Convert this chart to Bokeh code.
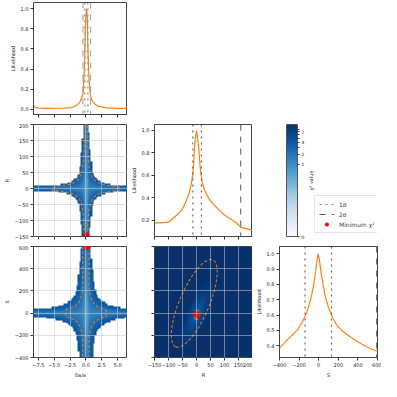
import numpy as np
from bokeh.plotting import figure
from bokeh.layouts import gridplot
from bokeh.models import (FixedTicker, ColorBar, LinearColorMapper, Legend, LegendItem,
                          Label, Span, Range1d)
from bokeh.palettes import Blues256
from bokeh.embed import file_html
from bokeh.resources import INLINE

FONT = "DejaVu Sans"

# ---------------- axis ranges and ticks ----------------
da_range = [-8.27, 6.56]          # δa/a, in units of 1e-4
r_range = [-150, 200]
s_range = [-400, 600]
like_da_range = [-0.05, 1.06]
like_r_range = [0.057, 1.05]
like_s_range = [0.323, 1.048]

da_ticks = [-7.5, -5.0, -2.5, 0.0, 2.5, 5.0]
r_ticks = [-150, -100, -50, 0, 50, 100, 150, 200]
s_ticks = [-400, -200, 0, 200, 400, 600]
like_da_ticks = [0.0, 0.2, 0.4, 0.6, 0.8, 1.0]
like_r_ticks = [0.2, 0.4, 0.6, 0.8, 1.0]
like_s_ticks = [0.4, 0.5, 0.6, 0.7, 0.8, 0.9, 1.0]

# ---------------- 1D profile likelihoods ----------------
da_vals = [-8.27, -8.0, -7.5, -6.0, -4.0, -2.5, -1.6, -1.05, -0.75, -0.57, -0.47, -0.32,
           -0.2, -0.09, 0.0, 0.12, 0.22, 0.31, 0.41, 0.5, 0.62, 0.74, 0.95, 1.37, 2.0,
           3.3, 5.0, 6.56]
da_like = [0.04, 0.02, 0.013, 0.011, 0.012, 0.015, 0.035, 0.063, 0.1, 0.135, 0.16, 0.3,
           0.5, 0.786, 0.93, 1.0, 0.9, 0.62, 0.42, 0.3, 0.2, 0.135, 0.09, 0.055, 0.03,
           0.015, 0.01, 0.01]

r_vals = [-150, -140, -125, -110, -99, -85, -65, -50, -42, -32, -25, -18, -14, -10, -8,
          -4, 0.6, 4, 9, 12, 16.5, 22, 31, 45, 60, 78, 94, 110, 128, 145, 158, 180, 200]
r_like = [0.175, 0.177, 0.18, 0.182, 0.185, 0.215, 0.259, 0.3, 0.343, 0.4, 0.455, 0.53,
          0.596, 0.7, 0.82, 0.93, 0.995, 0.93, 0.82, 0.7, 0.596, 0.52, 0.455, 0.39, 0.343,
          0.3, 0.259, 0.23, 0.203, 0.172, 0.14, 0.125, 0.113]

s_vals = [-400, -360, -319, -270, -221, -180, -139, -105, -75, -50, -32, -18, -6, 5, 23,
          45, 66, 100, 137, 180, 235, 300, 365, 430, 496, 550, 600]
s_like = [0.384, 0.41, 0.44, 0.47, 0.50, 0.54, 0.591, 0.65, 0.722, 0.8, 0.883, 0.95, 1.0,
          0.97, 0.883, 0.8, 0.722, 0.65, 0.591, 0.54, 0.50, 0.468, 0.44, 0.415, 0.39,
          0.375, 0.364]

# sigma boundaries
da_sig1 = [-0.17, 0.31]
da_sig2 = [-0.47, 0.74]
r_sig1 = [-13.0, 17.6]
r_sig2 = [158.0]
s_sig1 = [-139.0, 131.0]
s_sig2 = [592.0]

# minimum chi^2 points shown in the 2D panels
min_dr_da, min_dr_r = [0.05], [-148.0]
min_ds_da, min_ds_s = [0.2], [598.0]
min_rs_r, min_rs_s = [0.6], [-12.0]

# 2D chi^2 surface shape parameters
# shown region: |x*y| < C(y)  or |x| < xb  or |y| < yb, with C ramping from C0 to C1
dr_mask = [50.0, 85.0, 40.0, 60.0, 0.3, 8.0]      # C0, C1, ramp start, ramp length, xb, yb
ds_mask = [280.0, 440.0, 150.0, 250.0, 0.7, 38.0]
# 1-sigma contour: (|x*y| < c or |x| < xv) and |x| < tip
dr_cont = [35.0, 0.3, 5.3]
ds_cont = [110.0, 0.5, 3.2]
dr_glow = [0.35, 160.0]
ds_glow = [0.45, 420.0]
rs_outer = [-8.0, 88.0, 82.0, 395.0, 0.72]     # centre R, centre S, scale R, scale S, rho
rs_inner = [0.6, -18.0, 9.0, 42.0]

cbar_ticks = [0, 1, 2, 3, 4, 5, 6, 7, 8]
CHI_VMAX = 10.0
CHI_GAMMA = 0.19

ORANGE = "#ff7f0e"
NGRID = 72

# ---------------- helpers ----------------
def fmt_minus(s):
    return s.replace("-", "\u2212")

def lab1(v):
    return fmt_minus(f"{v:.1f}")

def lab0(v):
    return fmt_minus(f"{v:.0f}")

blues = list(reversed(Blues256))
rgb = np.array([[int(c[1:3], 16), int(c[3:5], 16), int(c[5:7], 16)] for c in blues], dtype=np.uint8)

def to_rgba(chi2, shown):
    t = np.clip(chi2 / CHI_VMAX, 0, 1) ** CHI_GAMMA
    idx = np.clip(np.round(t * 255).astype(int), 0, 255)
    img = np.zeros(chi2.shape + (4,), dtype=np.uint8)
    img[..., :3] = rgb[idx]
    img[..., 3] = np.where(shown, 255, 0)
    return img.view(np.uint32).reshape(chi2.shape)

def centres(rng, n):
    e = np.linspace(rng[0], rng[1], n + 1)
    return 0.5 * (e[:-1] + e[1:])

def cross_surface(xr, yr, mask, cont, glow):
    x = centres(xr, NGRID); y = centres(yr, NGRID)
    X, Y = np.meshgrid(x, y)
    C = mask[0] + (mask[1] - mask[0]) * np.clip((np.abs(Y) - mask[2]) / mask[3], 0, 1)
    D = np.minimum(np.minimum(np.abs(X * Y) / C, np.abs(X) / mask[4]), np.abs(Y) / mask[5])
    shown = D < 1
    chi2 = (1.3 + 3.6 * np.clip(D, 0, 1.2) ** 1.2
            - 1.0 * np.exp(-((X / glow[0]) ** 2 + (Y / glow[1]) ** 2)))
    Gc = np.maximum(np.minimum(np.abs(X * Y) / cont[0], np.abs(X) / cont[1]), np.abs(X) / cont[2])
    return x, y, chi2, shown, Gc

def mk(w, h, xr, yr, left, right, top, bottom):
    p = figure(width=w, height=h, x_range=Range1d(*xr), y_range=Range1d(*yr),
               toolbar_location=None, output_backend="svg",
               min_border_left=left, min_border_right=right,
               min_border_top=top, min_border_bottom=bottom)
    p.grid.visible = False
    p.outline_line_color = "#444444"
    p.background_fill_color = "white"
    return p

def style_axis(ax, ticks, fmt, show, label=""):
    ax.ticker = FixedTicker(ticks=ticks)
    ax.major_label_overrides = {t: (fmt(t) if show else "") for t in ticks}
    ax.minor_tick_line_color = None
    ax.major_tick_out = 3
    ax.major_tick_in = 0
    ax.major_tick_line_color = "#333333"
    ax.axis_line_color = "#444444"
    ax.major_label_text_font = FONT
    ax.major_label_text_color = "#222222"
    ax.major_label_text_font_size = "5px"
    ax.major_label_standoff = 2 if show else 0
    ax.axis_label = label if label else None
    ax.axis_label_text_font = FONT
    ax.axis_label_text_font_size = "5px"
    ax.axis_label_text_font_style = "normal"
    ax.axis_label_text_color = "#222222"
    ax.axis_label_standoff = 2

def grid2d(p):
    p.grid.visible = True
    p.grid.grid_line_color = "#c8c8c8"
    p.grid.grid_line_alpha = 0.55
    p.grid.level = "overlay"
    p.xgrid.ticker = FixedTicker(ticks=p.xaxis[0].ticker.ticks)
    p.ygrid.ticker = FixedTicker(ticks=p.yaxis[0].ticker.ticks)

def sig_lines(p, s1, s2, c1="#666666", c2="#555555"):
    for v in s1:
        p.add_layout(Span(location=v, dimension="height", line_color=c1,
                          line_dash="dotted", line_width=1.2))
    for v in s2:
        p.add_layout(Span(location=v, dimension="height", line_color=c2,
                          line_dash="dashed", line_width=1.0))

# layout sizes (frames are 100 x 112 px)
W0, W1, W2 = 127, 125, 129
H0, H1, H2 = 123, 122, 135

# ---------------- top-left: δa/a likelihood ----------------
p00 = mk(W0, H0, da_range, like_da_range, 27, 0, 2, 9)
style_axis(p00.xaxis[0], da_ticks, lab1, False)
style_axis(p00.yaxis[0], like_da_ticks, lab1, True, "Likelihood")
sig_lines(p00, da_sig1, da_sig2, "#8a8a8a", "#9a9a9a")
p00.line(da_vals, da_like, line_color=ORANGE, line_width=1.2)

# ---------------- middle-left: δa/a vs R ----------------
p10 = mk(W0, H1, da_range, r_range, 27, 0, 1, 9)
style_axis(p10.xaxis[0], da_ticks, lab1, False)
style_axis(p10.yaxis[0], r_ticks, lab0, True, "R")
x, y, chi2, shown, Gc = cross_surface(da_range, r_range, dr_mask, dr_cont, dr_glow)
p10.image_rgba(image=[to_rgba(chi2, shown)], x=da_range[0], y=r_range[0],
               dw=da_range[1] - da_range[0], dh=r_range[1] - r_range[0])
p10.contour(x=x, y=y, z=Gc, levels=[1.0], line_color=ORANGE, line_dash="3 2", line_width=1.1, line_alpha=0.85)
p10.scatter(min_dr_da, min_dr_r, size=6, color="red")
grid2d(p10)

# ---------------- bottom-left: δa/a vs S ----------------
p20 = mk(W0, H2, da_range, s_range, 27, 0, 1, 22)
style_axis(p20.xaxis[0], da_ticks, lab1, True, "\u03b4a/a")
style_axis(p20.yaxis[0], s_ticks, lab0, True, "S")
x, y, chi2, shown, Gc = cross_surface(da_range, s_range, ds_mask, ds_cont, ds_glow)
p20.image_rgba(image=[to_rgba(chi2, shown)], x=da_range[0], y=s_range[0],
               dw=da_range[1] - da_range[0], dh=s_range[1] - s_range[0])
p20.contour(x=x, y=y, z=Gc, levels=[1.0], line_color=ORANGE, line_dash="3 2", line_width=1.1, line_alpha=0.85)
p20.scatter(min_ds_da, min_ds_s, size=6, color="red")
grid2d(p20)
p20.add_layout(Label(x=da_range[1], y=s_range[0], text="\u00d710\u207b\u2074", text_align="right",
                     text_baseline="top", y_offset=-12, x_offset=-1, text_font=FONT,
                     text_font_size="5px", text_color="#222222"))

# ---------------- middle-centre: R likelihood ----------------
p11 = mk(W1, H1, r_range, like_r_range, 25, 0, 1, 9)
style_axis(p11.xaxis[0], r_ticks, lab0, False)
style_axis(p11.yaxis[0], like_r_ticks, lab1, True, "Likelihood")
sig_lines(p11, r_sig1, r_sig2)
p11.line(r_vals, r_like, line_color=ORANGE, line_width=1.2)

# ---------------- bottom-centre: R vs S ----------------
p21 = mk(W1, H2, r_range, s_range, 25, 0, 1, 22)
style_axis(p21.xaxis[0], r_ticks, lab0, True, "R")
style_axis(p21.yaxis[0], s_ticks, lab0, False)
x = centres(r_range, NGRID); y = centres(s_range, NGRID)
X, Y = np.meshgrid(x, y)
rho = rs_outer[4]
u = (X - min_rs_r[0]) / rs_outer[2]
v = (Y - min_rs_s[0]) / rs_outer[3]
Qc = (u ** 2 - 2 * rho * u * v + v ** 2) / (1 - rho ** 2)
chi2 = 11.0 * Qc ** 0.25
p21.image_rgba(image=[to_rgba(chi2, np.ones_like(chi2, dtype=bool))], x=r_range[0], y=s_range[0],
               dw=r_range[1] - r_range[0], dh=s_range[1] - s_range[0])
u = (X - rs_outer[0]) / rs_outer[2]
v = (Y - rs_outer[1]) / rs_outer[3]
Qo = (u ** 2 - 2 * rho * u * v + v ** 2) / (1 - rho ** 2)
Qi = ((X - rs_inner[0]) / rs_inner[2]) ** 2 + ((Y - rs_inner[1]) / rs_inner[3]) ** 2
p21.contour(x=x, y=y, z=Qo, levels=[1.0], line_color=ORANGE, line_dash="3 2", line_width=1.1, line_alpha=0.85)
p21.contour(x=x, y=y, z=Qi, levels=[1.0], line_color=ORANGE, line_dash="3 2", line_width=1.1, line_alpha=0.85)
p21.scatter(min_rs_r, min_rs_s, size=6, color="red")
grid2d(p21)

# ---------------- bottom-right: S likelihood ----------------
p22 = mk(W2, H2, s_range, like_s_range, 25, 4, 1, 22)
style_axis(p22.xaxis[0], s_ticks, lab0, True, "S")
style_axis(p22.yaxis[0], like_s_ticks, lab1, True, "Likelihood")
sig_lines(p22, s_sig1, s_sig2)
p22.line(s_vals, s_like, line_color=ORANGE, line_width=1.2)

# ---------------- colour bar + legend ----------------
pcb = figure(width=W2, height=H1, x_range=(0, 1), y_range=(0, 1), toolbar_location=None,
             output_backend="svg", x_axis_type=None, y_axis_type=None,
             min_border_left=25, min_border_right=4, min_border_top=1, min_border_bottom=9)
pcb.grid.visible = False
pcb.outline_line_color = None
tpos = [(v / CHI_VMAX) ** CHI_GAMMA for v in cbar_ticks]
mapper = LinearColorMapper(palette=blues, low=0, high=1)
cb = ColorBar(color_mapper=mapper, ticker=FixedTicker(ticks=tpos),
              major_label_overrides={t: str(v) for t, v in zip(tpos, cbar_ticks)},
              orientation="vertical", width=11, height=112, location=(7, 0), padding=0,
              label_standoff=2, major_tick_out=2, major_tick_in=0, major_tick_line_color="#333333",
              major_label_text_font=FONT, major_label_text_font_size="4.5px",
              major_label_text_color="#222222", bar_line_color="#555555",
              background_fill_alpha=0, border_line_color=None, minor_tick_line_color=None)
pcb.add_layout(cb, "center")
pcb.add_layout(Label(x=31, y=56, x_units="screen", y_units="screen", text="\u03c7\u00b2 value",
                     angle=np.pi / 2, text_align="center", text_baseline="middle",
                     text_font=FONT, text_font_size="5px", text_color="#222222"))
# legend-only renderers, kept outside the visible (0..1) range of this panel
r1 = pcb.line([5, 6], [5, 6], line_color="#888888", line_dash="dotted", line_width=1.2)
r2 = pcb.line([5, 6], [5, 6], line_color="#555555", line_dash="dashed", line_width=1.0)
r3 = pcb.scatter([5], [5], size=5, color="red")
leg = Legend(items=[LegendItem(label="1\u03c3", renderers=[r1]),
                    LegendItem(label="2\u03c3", renderers=[r2]),
                    LegendItem(label="Minimum \u03c7\u00b2", renderers=[r3])],
             location=(35, 3), label_text_font=FONT, label_text_font_size="6px",
             glyph_height=8, glyph_width=15, label_height=8, spacing=2, padding=4, margin=0,
             label_standoff=5, border_line_color="#cccccc", background_fill_alpha=0.9)
pcb.add_layout(leg, "center")

grid = gridplot([[p00, None, None], [p10, p11, pcb], [p20, p21, p22]], toolbar_location=None)

open("out.html", "w").write(file_html(grid, INLINE))
